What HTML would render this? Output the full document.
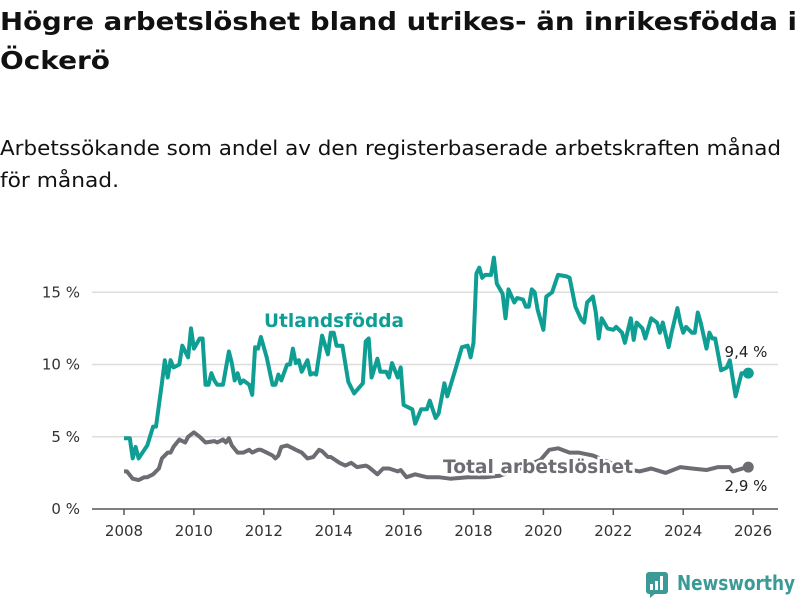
<!DOCTYPE html>
<html><head><meta charset="utf-8"><style>
body{margin:0;background:#fff;}
svg{display:block;font-family:"DejaVu Sans","Liberation Sans",sans-serif;}
</style></head><body>
<svg id="chart" width="800" height="600" viewBox="0 0 800 600">
<text x="0" y="30" font-size="25" font-weight="bold" fill="#111" textLength="797" lengthAdjust="spacingAndGlyphs">Högre arbetslöshet bland utrikes- än inrikesfödda i</text>
<text x="0" y="69" font-size="25" font-weight="bold" fill="#111" textLength="110" lengthAdjust="spacingAndGlyphs">Öckerö</text>
<text x="0" y="155" font-size="20" fill="#111" textLength="781" lengthAdjust="spacingAndGlyphs">Arbetssökande som andel av den registerbaserade arbetskraften månad</text>
<text x="0" y="187" font-size="20" fill="#111" textLength="119" lengthAdjust="spacingAndGlyphs">för månad.</text>
<g id="grid"></g>
<g id="axes"></g>
<g id="series"></g>
<g id="logo">
<rect x="646" y="572" width="22" height="22" rx="3" fill="#3a9a95"/>
<polygon points="650,593 656,593 650,598" fill="#3a9a95"/>
<rect x="650" y="584" width="3" height="6" fill="#fff"/>
<rect x="655" y="581" width="3" height="9" fill="#fff"/>
<rect x="660" y="576" width="3" height="14" fill="#fff"/>
<text x="677" y="590" font-size="20" font-weight="bold" fill="#3a9a95" textLength="118" lengthAdjust="spacingAndGlyphs">Newsworthy</text>
</g>
</svg>
<script>
const yTicks=[0,5,10,15];
const yTickLabels=["0 %","5 %","10 %","15 %"];
const xTicks=[2008,2010,2012,2014,2016,2018,2020,2022,2024,2026];
const foreignMonths=[0,2,3,4,5,8,10,11,13,14,15,16,17,19,20,22,23,24,26,27,28,29,30,31,32,34,36,37,38,39,40,41,43,44,45,46,47,49,51,52,53,54,56,57,58,59,60,61,63,64,65,66,68,70,71,72,73,75,77,79,82,83,84,85,87,88,90,91,92,94,95,96,99,100,102,104,105,107,108,110,111,114,116,118,119,120,121,122,123,124,126,127,128,130,131,132,134,135,137,138,139,140,141,142,144,145,147,149,152,153,155,157,158,159,161,162,163,164,166,168,169,171,172,174,175,176,178,179,181,183,184,185,187,188,190,191,192,193,195,196,197,198,200,201,202,203,205,207,208,210,212,214];
const foreignValues=[4.9,4.9,3.5,4.3,3.5,4.4,5.7,5.7,8.7,10.3,9.1,10.3,9.8,10.0,11.3,10.5,12.5,11.1,11.8,11.8,8.6,8.6,9.4,8.9,8.6,8.6,10.9,10.1,8.9,9.4,8.7,8.9,8.6,7.9,11.2,11.1,11.9,10.5,8.6,8.6,9.3,8.9,10.0,10.0,11.1,10.1,10.3,9.5,10.3,9.3,9.4,9.3,12.0,10.7,12.2,12.2,11.3,11.3,8.8,8.0,8.7,11.6,11.8,9.1,10.4,9.5,9.5,9.1,10.1,9.1,9.8,7.2,6.9,5.9,6.9,6.9,7.5,6.3,6.6,8.7,7.8,9.8,11.2,11.3,10.5,11.5,16.3,16.7,16.0,16.2,16.2,17.4,15.6,14.9,13.2,15.2,14.3,14.6,14.5,14.0,14.0,15.2,15.0,13.8,12.4,14.7,15.0,16.2,16.1,16.0,14.0,13.1,12.9,14.3,14.7,13.6,11.8,13.2,12.5,12.4,12.6,12.2,11.5,13.2,11.7,12.9,12.5,11.8,13.2,12.9,12.2,12.9,11.2,12.2,13.9,12.9,12.2,12.6,12.2,12.2,13.6,12.9,11.1,12.2,11.8,11.8,9.6,9.8,10.3,7.8,9.4,9.4];
const totalMonths=[0,1,3,5,7,8,10,12,13,15,16,17,19,21,22,24,26,28,31,32,34,35,36,37,39,41,43,44,46,47,49,51,52,53,54,56,58,59,61,63,65,67,68,70,71,74,76,78,80,83,84,87,89,91,94,95,97,100,102,104,108,112,118,124,129,136,143,146,149,153,156,161,167,172,177,181,186,191,195,200,204,208,209,214];
const totalValues=[2.6,2.6,2.1,2.0,2.2,2.2,2.4,2.8,3.5,3.9,3.9,4.3,4.8,4.6,5.0,5.3,5.0,4.6,4.7,4.6,4.8,4.6,4.9,4.4,3.9,3.9,4.1,3.9,4.1,4.1,3.9,3.7,3.5,3.7,4.3,4.4,4.2,4.1,3.9,3.5,3.6,4.1,4.0,3.6,3.6,3.2,3.0,3.2,2.9,3.0,2.9,2.4,2.8,2.8,2.6,2.7,2.2,2.4,2.3,2.2,2.2,2.1,2.2,2.2,2.3,2.8,3.4,4.1,4.2,3.9,3.9,3.7,3.2,2.8,2.6,2.8,2.5,2.9,2.8,2.7,2.9,2.9,2.6,2.9];

const NS="http://www.w3.org/2000/svg";
const X0=124, PXY=34.95, Y0=509, PXV=14.45;
function xYear(y){return X0+(y-2008)*PXY;}
function xMonth(m){return xYear(2008+m/12);}
function yVal(v){return Y0-v*PXV;}
function mk(tag,attrs,parent){const e=document.createElementNS(NS,tag);for(const k in attrs)e.setAttribute(k,attrs[k]);parent.appendChild(e);return e;}
const grid=document.getElementById('grid'),axes=document.getElementById('axes'),series=document.getElementById('series');

yTicks.forEach((t,i)=>{
  if(t>0){
    const l=mk('line',{x1:92,x2:778,y1:yVal(t),y2:yVal(t),stroke:'#ddd','stroke-width':1.5},grid);
    
    
  }
  const tx=mk('text',{x:80,y:yVal(t)+5,'text-anchor':'end','font-size':15,fill:'#333'},axes);
  tx.textContent=yTickLabels[i];
  
  
});
const base=mk('line',{x1:92,x2:778,y1:Y0,y2:Y0,stroke:'#555','stroke-width':1.5},axes);


xTicks.forEach(t=>{
  const tk=mk('line',{x1:xYear(t),x2:xYear(t),y1:Y0,y2:Y0+6,stroke:'#555','stroke-width':1.5},axes);
  
  
  const tx=mk('text',{x:xYear(t),y:536,'text-anchor':'middle','font-size':15,fill:'#333'},axes);
  tx.textContent=t;
  
  
});

function pathD(ms,vs){return ms.map((m,i)=>(i?'L':'M')+xMonth(m).toFixed(1)+','+yVal(vs[i]).toFixed(1)).join(' ');}

const tl=mk('path',{d:pathD(totalMonths,totalValues),fill:'none',stroke:'#6e6c73','stroke-width':4,'stroke-linejoin':'round'},series);


const tlast=totalMonths.length-1;
const td=mk('circle',{cx:xMonth(totalMonths[tlast])+1,cy:yVal(totalValues[tlast]),r:5.5,fill:'#6e6c73'},series);



const tlab=mk('text',{x:443,y:473,'font-size':19,'font-weight':'bold',fill:'#6e6c73',stroke:'#fff','stroke-width':5,'paint-order':'stroke',textLength:190,lengthAdjust:'spacingAndGlyphs'},series);
tlab.textContent='Total arbetslöshet';



const fl=mk('path',{d:pathD(foreignMonths,foreignValues),fill:'none',stroke:'#0f9e94','stroke-width':4,'stroke-linejoin':'round'},series);


const flast=foreignMonths.length-1;
const fd=mk('circle',{cx:xMonth(foreignMonths[flast])+1,cy:yVal(foreignValues[flast]),r:5.5,fill:'#0f9e94'},series);



const flab=mk('text',{x:264,y:327,'font-size':19,'font-weight':'bold',fill:'#0f9e94',stroke:'#fff','stroke-width':4,'paint-order':'stroke',textLength:140,lengthAdjust:'spacingAndGlyphs'},series);
flab.textContent='Utlandsfödda';



const fv=mk('text',{x:746,y:357,'text-anchor':'middle','font-size':15,fill:'#222',stroke:'#fff','stroke-width':3,'paint-order':'stroke'},series);
fv.textContent='9,4 %';


const tv=mk('text',{x:746,y:491,'text-anchor':'middle','font-size':15,fill:'#222',stroke:'#fff','stroke-width':3,'paint-order':'stroke'},series);
tv.textContent='2,9 %';


</script>
</body></html>
